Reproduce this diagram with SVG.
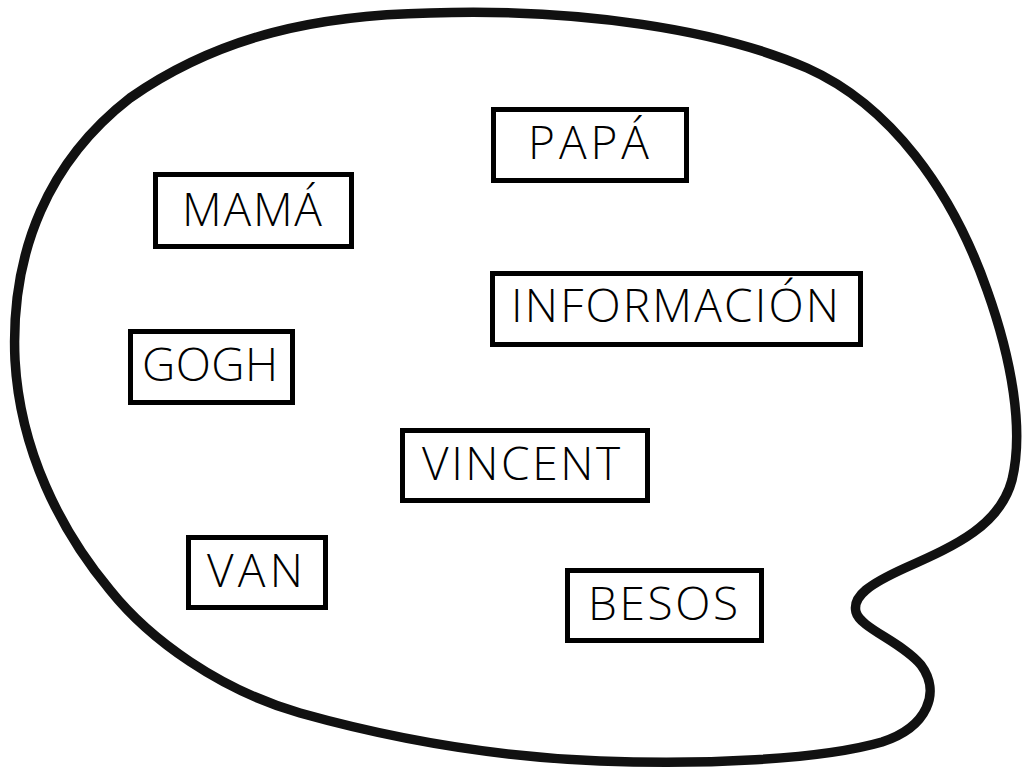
<svg xmlns="http://www.w3.org/2000/svg" width="1033" height="776" viewBox="0 0 1033 776">
<style>
.box{fill:#fff;stroke:#000;stroke-width:5}
.lbl{font-family:"Open Sans","Liberation Sans",sans-serif;font-weight:300;font-size:46px;fill:#000}
.outline{fill:#fff;stroke:#111;stroke-width:9.5;stroke-linejoin:round}
</style>
<rect width="1033" height="776" fill="#fff"/>
<g id="palette">
<path class="outline" d="M 430,13 C 580,8 720,30 807,68 C 890,105 952,190 987,290 C 1012,360 1024,430 1012,480 C 1000,525 957,545 905,568 C 870,584 852,596 856,612 C 860,628 902,642 921,665 C 941,692 928,727 882,742 C 820,760 700,765 600,761 C 500,757 400,741 300,713 C 220,690 150,640 110,590 C 60,530 20,450 15,360 C 10,250 50,160 130,98 C 220,35 320,15 430,13 Z"/>
</g>
<g id="connectors"></g>
<g id="papa"><rect class="box" x="493.5" y="109.5" width="193" height="71"/><text class="lbl" x="528" y="159" textLength="121" lengthAdjust="spacing">PAPÁ</text></g>
<g id="mama"><rect class="box" x="155.5" y="174.5" width="196" height="72"/><text class="lbl" x="182" y="226" textLength="140" lengthAdjust="spacing">MAMÁ</text></g>
<g id="informacion"><rect class="box" x="492.5" y="273.5" width="368" height="71"/><text class="lbl" x="511" y="322" textLength="328" lengthAdjust="spacing">INFORMACIÓN</text></g>
<g id="gogh"><rect class="box" x="130.5" y="331.5" width="162" height="71"/><text class="lbl" x="142" y="381" textLength="136" lengthAdjust="spacing">GOGH</text></g>
<g id="vincent"><rect class="box" x="402.5" y="430.5" width="245" height="70"/><text class="lbl" x="422" y="480" textLength="198" lengthAdjust="spacing">VINCENT</text></g>
<g id="van"><rect class="box" x="188.5" y="537.5" width="137" height="70"/><text class="lbl" x="207" y="587" textLength="96" lengthAdjust="spacing">VAN</text></g>
<g id="besos"><rect class="box" x="567.5" y="570.5" width="194" height="70"/><text class="lbl" x="588" y="620" textLength="150" lengthAdjust="spacing">BESOS</text></g>
</svg>
